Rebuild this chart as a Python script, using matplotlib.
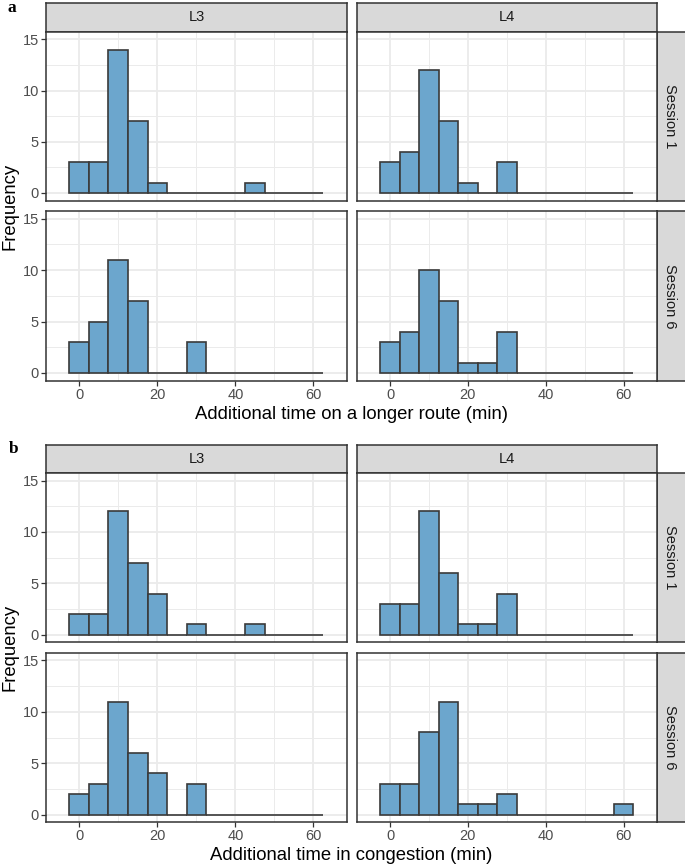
import matplotlib
matplotlib.use("Agg")
import matplotlib.pyplot as plt
import numpy as np

# ---------------- data ----------------
bin_centers = [0, 5, 10, 15, 20, 25, 30, 35, 40, 45, 50, 55, 60]
bin_width = 5

a_L3_S1 = [3, 3, 14, 7, 1, 0, 0, 0, 0, 1, 0, 0, 0]
a_L4_S1 = [3, 4, 12, 7, 1, 0, 3, 0, 0, 0, 0, 0, 0]
a_L3_S6 = [3, 5, 11, 7, 0, 0, 3, 0, 0, 0, 0, 0, 0]
a_L4_S6 = [3, 4, 10, 7, 1, 1, 4, 0, 0, 0, 0, 0, 0]

b_L3_S1 = [2, 2, 12, 7, 4, 0, 1, 0, 0, 1, 0, 0, 0]
b_L4_S1 = [3, 3, 12, 6, 1, 1, 4, 0, 0, 0, 0, 0, 0]
b_L3_S6 = [2, 3, 11, 6, 4, 0, 3, 0, 0, 0, 0, 0, 0]
b_L4_S6 = [3, 3, 8, 11, 1, 1, 2, 0, 0, 0, 0, 0, 1]

col_labels = ["L3", "L4"]
row_labels = ["Session 1", "Session 6"]
x_ticks = [0, 20, 40, 60]
y_ticks = [0, 5, 10, 15]
panel_labels = ["a", "b"]
x_titles = ["Additional time on a longer route (min)",
            "Additional time in congestion (min)"]
y_title = "Frequency"

parts = [
    [[a_L3_S1, a_L4_S1], [a_L3_S6, a_L4_S6]],
    [[b_L3_S1, b_L4_S1], [b_L3_S6, b_L4_S6]],
]

# ---------------- style ----------------
W, H = 685, 866
DPI = 100
FONT = ["Liberation Sans", "DejaVu Sans"]
plt.rcParams["font.family"] = FONT
FILL = "#6CA6CD"
EDGE = "#3a3a3a"
GRID = "#EBEBEB"
BORDER = "#333333"
STRIP = "#D9D9D9"
TICKC = "#4D4D4D"
SMALL = 10.5

fig = plt.figure(figsize=(W / DPI, H / DPI), dpi=DPI)


def px_axes(x0, y0, x1, y1, **kw):
    """add axes from pixel box (top-left origin)"""
    return fig.add_axes([x0 / W, 1 - y1 / H, (x1 - x0) / W, (y1 - y0) / H], **kw)


col_x = [(46, 347), (357, 657)]
strip_right = (657, 685)
layouts = [
    dict(strip=(3, 31.7), rows=[(31.7, 200.5), (211, 380.7)], xtitle=415, label=(8, 12)),
    dict(strip=(445, 473), rows=[(473, 642.3), (652.7, 822.3)], xtitle=855, label=(9, 453)),
]

for p, lay in enumerate(layouts):
    # column strips
    for c, (x0, x1) in enumerate(col_x):
        sa = px_axes(x0, lay["strip"][0], x1, lay["strip"][1])
        sa.set_facecolor(STRIP)
        sa.set_xticks([]); sa.set_yticks([])
        for s in sa.spines.values():
            s.set_color(BORDER); s.set_linewidth(1.1)
        sa.text(0.5, 0.5, col_labels[c], ha="center", va="center",
                fontsize=SMALL, color="#1A1A1A", transform=sa.transAxes)
    for r, (y0, y1) in enumerate(lay["rows"]):
        # row strip
        sa = px_axes(strip_right[0], y0, strip_right[1] + 2, y1)
        sa.set_facecolor(STRIP)
        sa.set_xticks([]); sa.set_yticks([])
        for s in sa.spines.values():
            s.set_color(BORDER); s.set_linewidth(1.1)
        sa.text(0.45, 0.5, row_labels[r], ha="center", va="center", rotation=-90,
                fontsize=SMALL, color="#1A1A1A", transform=sa.transAxes)
        for c, (x0, x1) in enumerate(col_x):
            ax = px_axes(x0, y0, x1, y1)
            counts = parts[p][r][c]
            ax.set_axisbelow(True)
            ax.bar(bin_centers, counts, width=bin_width, color=FILL,
                   edgecolor=EDGE, linewidth=1.2, zorder=3)
            ax.set_xlim(-8.5, 68.6)
            ax.set_ylim(-0.75, 15.75)
            ax.set_xticks(x_ticks)
            ax.set_xticks([10, 30, 50], minor=True)
            ax.set_yticks(y_ticks)
            ax.set_yticks([2.5, 7.5, 12.5], minor=True)
            ax.grid(True, which="major", color=GRID, linewidth=1.3)
            ax.grid(True, which="minor", color=GRID, linewidth=0.7)
            for s in ax.spines.values():
                s.set_color(BORDER); s.set_linewidth(1.1); s.set_zorder(5)
            ax.tick_params(which="minor", length=0)
            ax.tick_params(which="major", length=3.3, width=0.9, color=BORDER,
                           labelcolor=TICKC, labelsize=SMALL, pad=1.8)
            if r == 1:
                ax.set_xticklabels([str(v) for v in x_ticks])
            else:
                ax.tick_params(axis="x", which="major", length=0, labelbottom=False)
            if c == 0:
                ax.set_yticklabels([str(v) for v in y_ticks])
            else:
                ax.tick_params(axis="y", which="major", length=0, labelleft=False)
    # titles
    fig.text(351.5 / W, 1 - lay["xtitle"] / H, x_titles[p], ha="center",
             va="center", fontsize=13.3, color="black")
    yc = (lay["rows"][0][0] + lay["rows"][1][1]) / 2
    fig.text(10 / W, 1 - yc / H, y_title, ha="center", va="center",
             rotation=90, fontsize=13.3, color="black")
    fig.text(lay["label"][0] / W, 1 - lay["label"][1] / H, panel_labels[p],
             ha="left", va="baseline", fontsize=12.5, fontweight="bold",
             family=["Liberation Serif", "DejaVu Serif"])

fig.savefig("out.png", dpi=DPI)
